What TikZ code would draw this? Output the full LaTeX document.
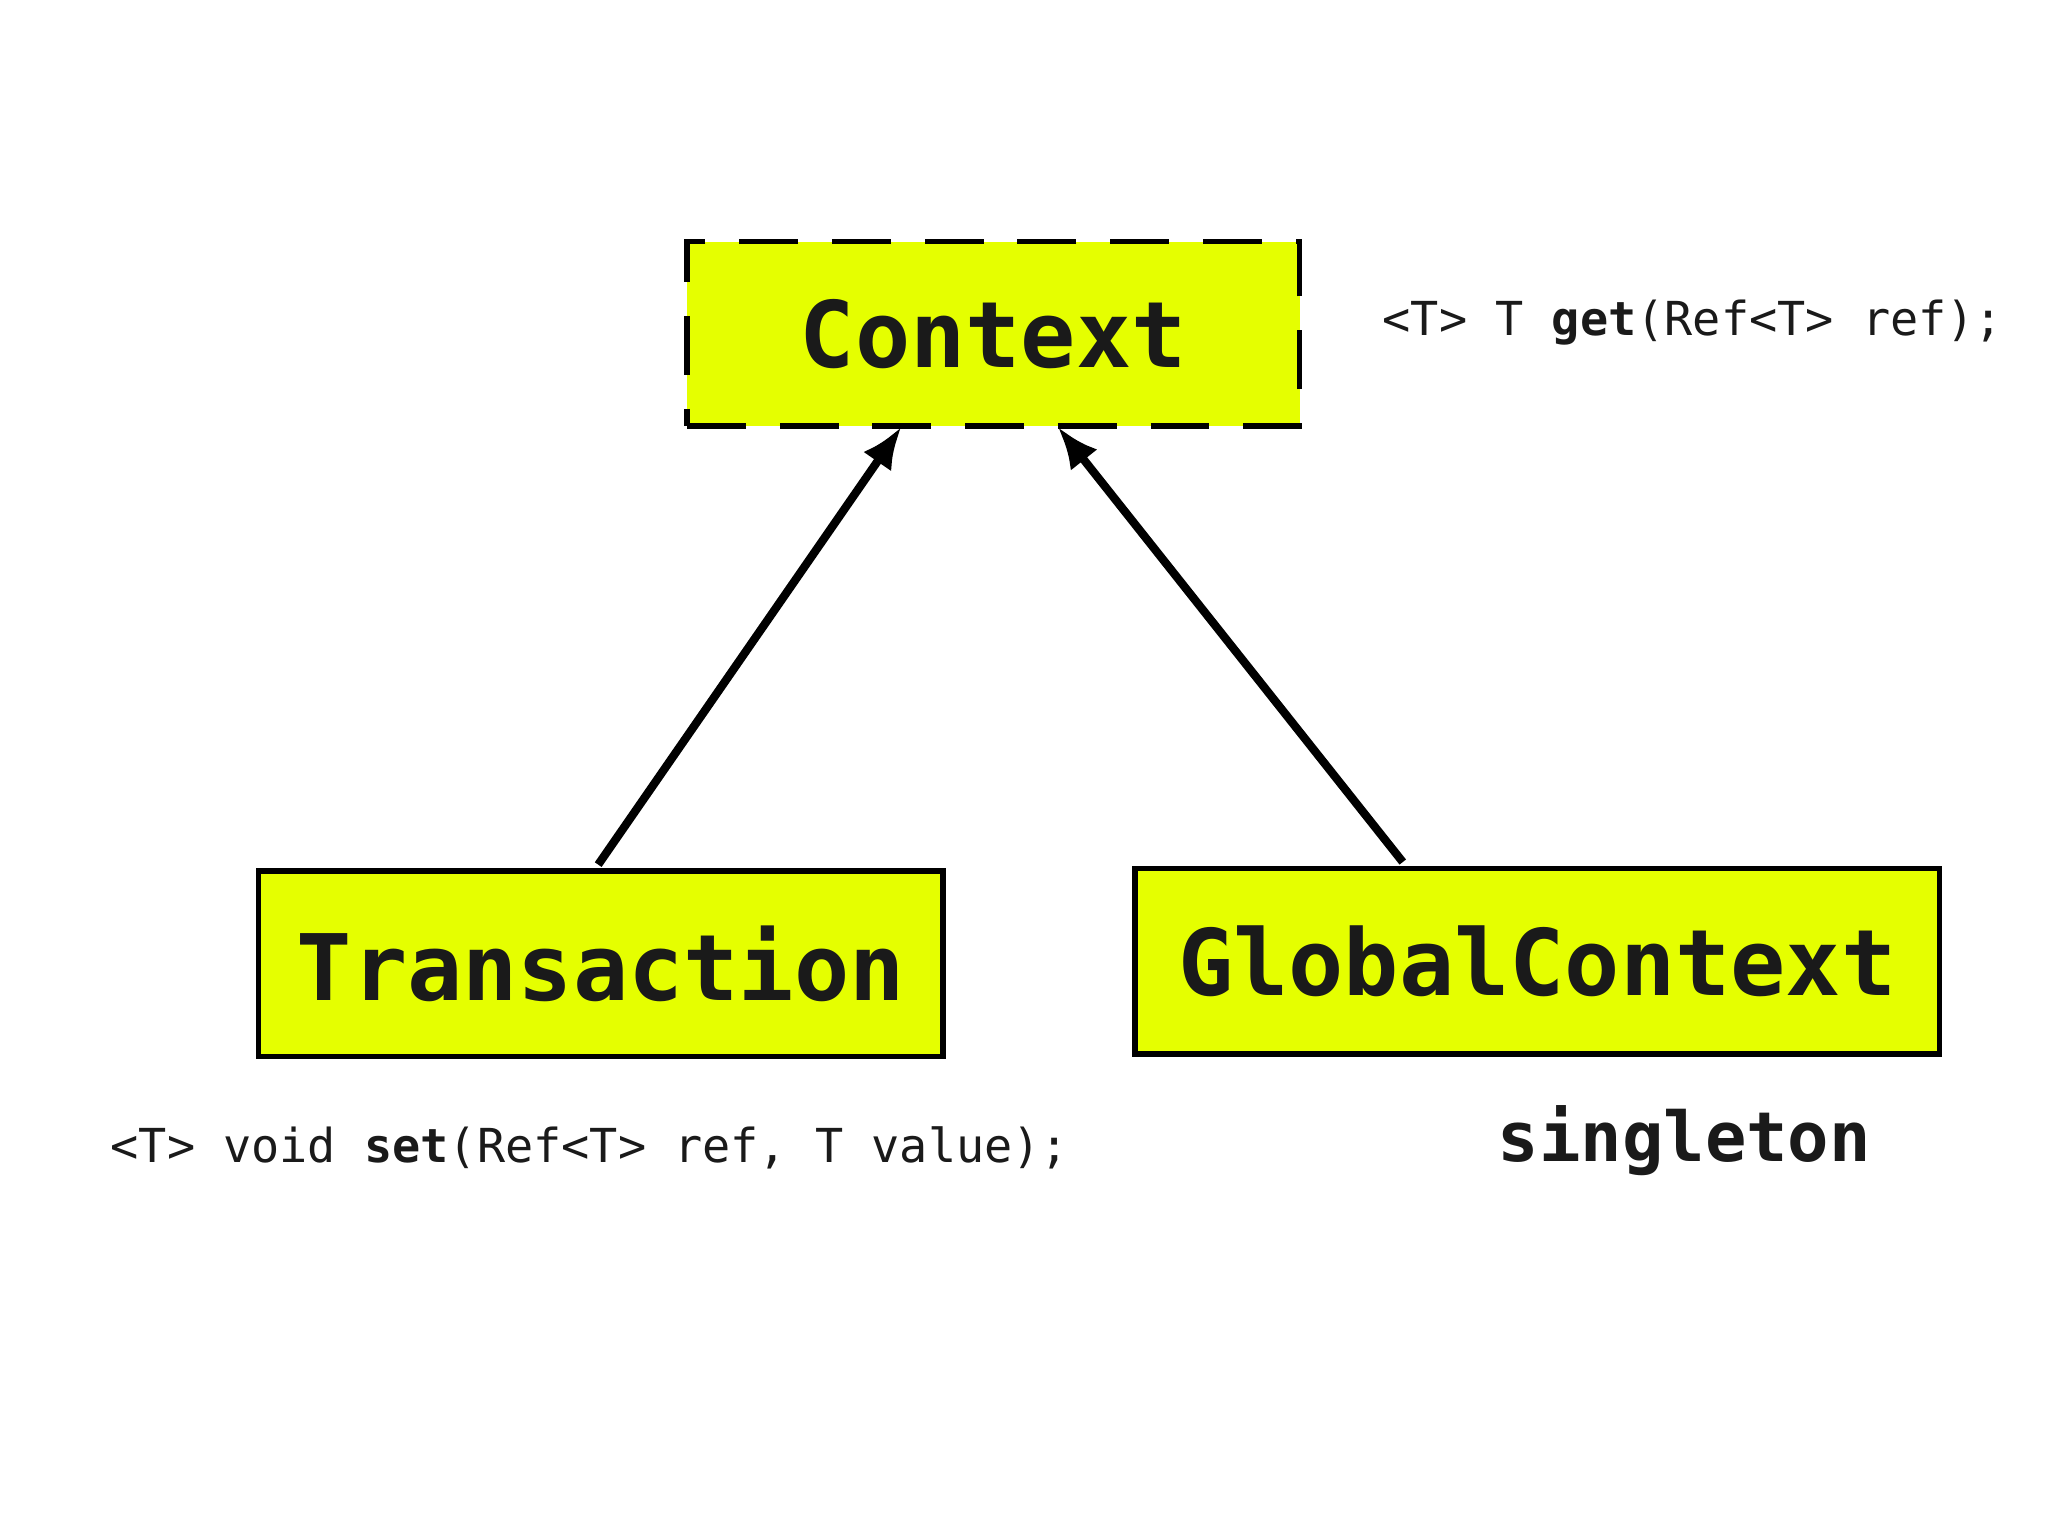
\documentclass[tikz,border=0pt]{standalone}
\usepackage{fontspec}
\setmonofont{DejaVu Sans Mono}
\usetikzlibrary{arrows.meta}
\definecolor{box}{HTML}{E5FF00}
\definecolor{txt}{HTML}{1A1A1A}
\begin{document}
\begin{tikzpicture}[x=0.1mm,y=-0.1mm,
  cls/.style={draw=black,line width=1.2pt,fill=box,inner sep=0pt,text=txt,font=\ttfamily\bfseries\fontsize{20}{24}\selectfont},
  arr/.style={line width=1.8pt,-{Latex[length=3.2mm,width=2.6mm]}},
  code/.style={text=txt,font=\ttfamily\fontsize{10.2}{12}\selectfont,anchor=west,inner sep=0pt}]
\useasboundingbox (0,0) rectangle (1568,1175);
\node[cls,dashed,dash pattern=on 4.5mm off 2.6mm,minimum width=46.9mm,minimum height=14.1mm] (c) at (760.5,255.5) {Context};
\node[cls,minimum width=52.4mm,minimum height=14.2mm] (t) at (460,738) {Transaction};
\node[cls,minimum width=61.6mm,minimum height=14.2mm] (g) at (1177,736) {GlobalContext};
\coordinate (c1) at (690,327);
\coordinate (c2) at (810,327);
\coordinate (t1) at (458,662);
\coordinate (g1) at (1074,660);
\draw[arr] (t1) -- (c1);
\draw[arr] (g1) -- (c2);
\node[code] (get) at (1058,247) {<T> T \textbf{get}(Ref<T> ref);};
\node[code] (set) at (84,879) {<T> void \textbf{set}(Ref<T> ref, T value);};
\node[text=txt,font=\ttfamily\bfseries\fontsize{15}{18}\selectfont,anchor=west,inner sep=0pt] (s) at (1146,873) {singleton};
\end{tikzpicture}
\end{document}
